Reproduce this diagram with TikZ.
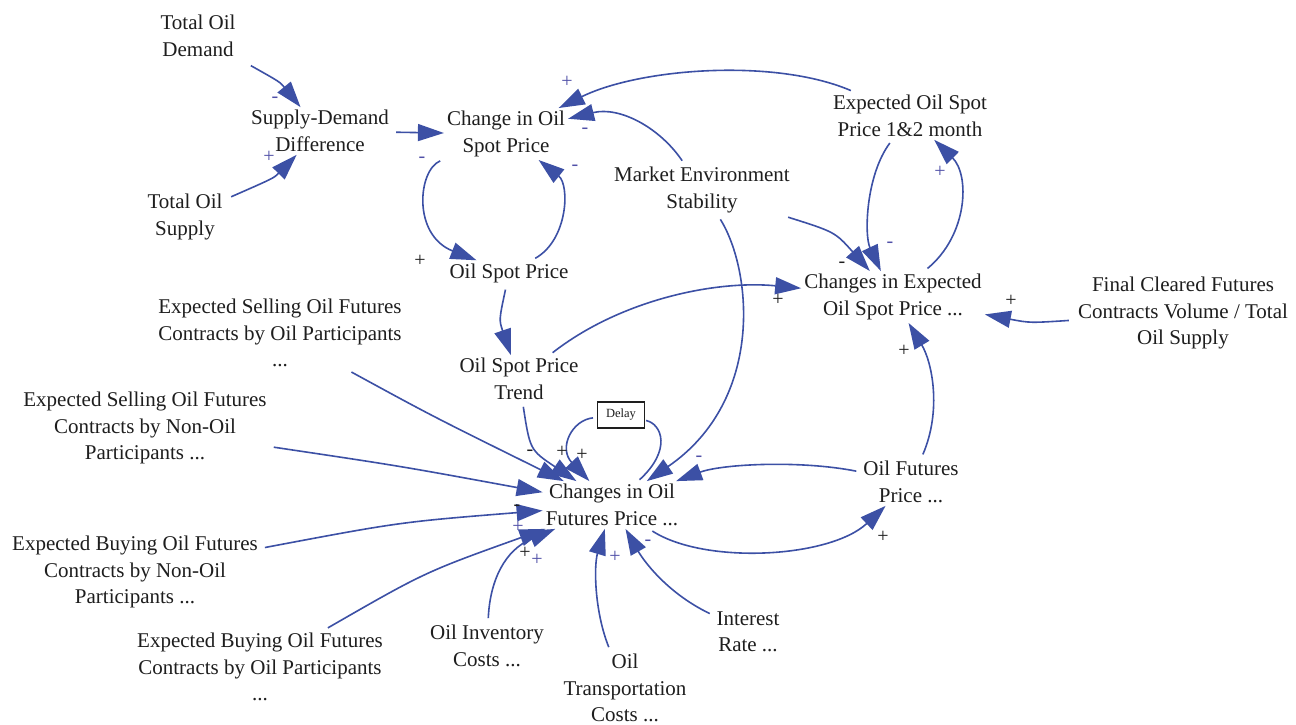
\documentclass[tikz,border=0pt]{standalone}
\usepackage{fontspec}
\setmainfont{Liberation Serif}
\usetikzlibrary{arrows.meta}
\definecolor{linkblue}{HTML}{3C50A5}
\definecolor{signblue}{HTML}{5050A8}
\definecolor{textdark}{HTML}{1E1E1E}
\tikzset{
  var/.style={align=center, text=textdark, font=\fontsize{21}{26.5}\selectfont, inner sep=3pt},
  link/.style={draw=linkblue, line width=1.6pt, -{Triangle[length=26pt,width=17pt]}, shorten <=4pt},
  plainlink/.style={draw=linkblue, line width=1.6pt, shorten <=2pt, shorten >=1pt},
  sgn/.style={font=\fontsize{20}{20}\selectfont, text=signblue, inner sep=0pt},
  sgk/.style={sgn, text=textdark},
  delaybox/.style={draw=textdark, line width=1.1pt, text=textdark, font=\fontsize{12.5}{14}\selectfont,
    minimum width=47pt, minimum height=26pt, inner sep=2pt}
}
\begin{document}
\begin{tikzpicture}[x=1pt,y=-1pt]
\useasboundingbox (0,0) rectangle (1296,725);
\fill[white] (0,0) rectangle (1296,725);

% variables
\node[var] (tod)   at (198,36)  {Total Oil\\Demand};
\node[var] (sdd)   at (320,131) {Supply-Demand\\Difference};
\node[var] (tos)   at (185,217) {Total Oil\\Supply};
\node[var] (cosp)  at (506,134) {Change in Oil\\Spot Price};
\node[var] (osp)   at (509,273) {Oil Spot Price};
\node[var] (mes)   at (702,190) {Market Environment\\Stability};
\node[var] (eosp)  at (910,116) {Expected Oil Spot\\Price 1\&2 month};
\node[var] (ceosp) at (893,297) {Changes in Expected\\Oil Spot Price ...};
\node[var] (fcf)   at (1183,313) {Final Cleared Futures\\Contracts Volume / Total\\Oil Supply};
\node[var] (esop)  at (280,333) {Expected Selling Oil Futures\\Contracts by Oil Participants\\...};
\node[var] (ospt)  at (519,379) {Oil Spot Price\\Trend};
\node[var] (esnp)  at (145,428) {Expected Selling Oil Futures\\Contracts by Non-Oil\\Participants ...};
\node[delaybox] (delay) at (621,415) {Delay};
\node[var] (ciofp) at (612,505) {Changes in Oil\\Futures Price ...};
\node[var] (ofp)   at (911,482) {Oil Futures\\Price ...};
\node[var] (ebnp)  at (135,572) {Expected Buying Oil Futures\\Contracts by Non-Oil\\Participants ...};
\node[var] (ebop)  at (260,667) {Expected Buying Oil Futures\\Contracts by Oil Participants\\...};
\node[var] (oic)   at (487,646) {Oil Inventory\\Costs ...};
\node[var] (otc)   at (625,688) {Oil\\Transportation\\Costs ...};
\node[var] (ir)    at (748,632) {Interest\\Rate ...};

% causal links
\draw[link, shorten <=14pt] (tod) .. controls (280,82) .. (sdd);
\draw[link, shorten <=6pt] (tos) .. controls (274,178) .. (sdd);
\draw[link] (sdd) -- (cosp);
\draw[link] (cosp) .. controls (418,170) and (412,235) .. (osp);
\draw[link] (osp) .. controls (568,240) and (570,185) .. (cosp);
\draw[link] (eosp) .. controls (775,58) and (640,68) .. (cosp);
\draw[link] (mes) .. controls (660,128) and (620,106) .. (cosp);
\draw[link] (mes) .. controls (752,270) and (765,400) .. (ciofp);
\draw[link] (mes) .. controls (835,232) .. (ceosp);
\draw[link] (eosp) .. controls (866,175) and (864,235) .. (ceosp);
\draw[link] (ceosp) .. controls (968,235) and (970,175) .. (eosp);
\draw[link, shorten <=6pt] (fcf) .. controls (1030,323) .. (ceosp);
\draw[link] (osp) .. controls (499,320) .. (ospt);
\draw[link] (ospt) .. controls (620,300) and (715,280) .. (ceosp);
\draw[link] (ofp) .. controls (942,410) and (932,362) .. (ceosp);
\draw[link] (ospt) .. controls (530,450) .. (ciofp);
\draw[link] (delay) .. controls (572,420) and (558,448) .. (ciofp);
\draw[plainlink] (ciofp) .. controls (672,450) and (662,424) .. (delay);
\draw[link] (ofp) .. controls (800,460) and (722,464) .. (ciofp);
\draw[link] (ciofp) .. controls (705,565) and (830,558) .. (ofp);
\draw[link, shorten <=4pt] (esop) .. controls (432,416) .. (ciofp);
\draw[link] (esnp) .. controls (400,466) .. (ciofp);
\draw[link] (ebnp) .. controls (400,522) .. (ciofp);
\draw[link] (ebop) .. controls (425,572) .. (ciofp);
\draw[link] (oic) .. controls (490,580) and (505,550) .. (ciofp);
\draw[link] (otc) .. controls (594,610) and (594,565) .. (ciofp);
\draw[link] (ir) .. controls (665,592) and (642,558) .. (ciofp);

% polarity signs
\node[sgn] (s1)  at (275,100) {-};
\node[sgn] (s2)  at (269,157) {+};
\node[sgn] (s3)  at (422,160) {-};
\node[sgk] (s4)  at (420,261) {+};
\node[sgn] (s5)  at (575,168) {-};
\node[sgn] (s6)  at (567,82)  {+};
\node[sgn] (s7)  at (585,131) {-};
\node[sgn] (s8)  at (699,459) {-};
\node[sgk] (s9)  at (842,265) {-};
\node[sgn] (s10) at (890,245) {-};
\node[sgn] (s11) at (940,172) {+};
\node[sgk] (s12) at (778,300) {+};
\node[sgk] (s13) at (1011,301) {+};
\node[sgk] (s14) at (904,351) {+};
\node[sgk] (s15) at (530,453) {-};
\node[sgk] (s16) at (562,452) {+};
\node[sgk] (s17) at (582,455) {+};
\node[sgk] (s18) at (517,508) {-};
\node[sgn] (s19) at (518,527) {+};
\node[sgk] (s20) at (525,553) {+};
\node[sgn] (s21) at (537,560) {+};
\node[sgn] (s22) at (615,557) {+};
\node[sgn] (s23) at (648,543) {-};
\node[sgk] (s24) at (883,537) {+};
\end{tikzpicture}
\end{document}
